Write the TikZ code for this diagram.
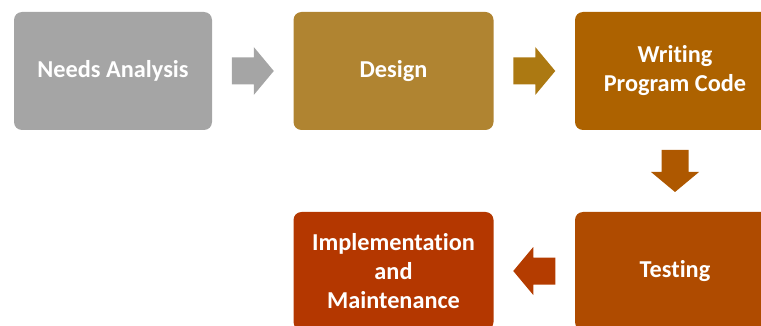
\documentclass[tikz,border=0pt]{standalone}
\usepackage{fontspec}
\setmainfont[Ligatures=NoCommon]{Carlito}
\usetikzlibrary{calc}

\definecolor{stgray}{HTML}{A5A5A5}
\definecolor{stgold}{HTML}{B08431}
\definecolor{stgoldarr}{HTML}{AC7912}
\definecolor{stbrown}{HTML}{AD6200}
\definecolor{stbrownarr}{HTML}{AE5800}
\definecolor{sttest}{HTML}{AF4B00}
\definecolor{sttestarr}{HTML}{B43C00}
\definecolor{stimpl}{HTML}{B43700}

\tikzset{
  stagebox/.style={rounded corners=8pt, text=white, align=center,
    minimum width=200pt, minimum height=118pt, inner sep=0pt,
    font=\fontsize{24.3pt}{29pt}\selectfont\bfseries}
}

% block arrow: colour, centre, angle
\newcommand{\blockarrow}[3]{\fill[#1, shift={(#2)}, rotate=#3]
  (-21,-13.5) -- (1,-13.5) -- (1,-24) -- (21,0) -- (1,24) -- (1,13.5) -- (-21,13.5) -- cycle;}

\begin{document}
\begin{tikzpicture}[x=1pt, y=-1pt]

\useasboundingbox (0,0) rectangle (761,326);
\clip (0,0) rectangle (761,326);

%boxes
\node[stagebox, fill=stgray, minimum width=198pt] (needs) at (113,71) {Needs Analysis};
\node[stagebox, fill=stgold] (design) at (393.5,71) {Design};
\node[stagebox, fill=stbrown] (code) at (675,71) {Writing\\Program Code};
\node[stagebox, fill=sttest] (test) at (675,271) {Testing};
\node[stagebox, fill=stimpl] (impl) at (393.5,271) {Implementation\\and\\Maintenance};

%arrows
\coordinate (a1) at ($(needs.east)!0.5!(design.west)$);
\coordinate (a2) at ($(design.east)!0.5!(code.west)$);
\coordinate (a3) at ($(code.south)!0.5!(test.north)$);
\coordinate (a4) at ($(test.west)!0.5!(impl.east)$);

\blockarrow{stgray}{a1}{0}
\blockarrow{stgoldarr}{a2}{0}
\blockarrow{stbrownarr}{a3}{-90}
\blockarrow{sttestarr}{a4}{180}

\end{tikzpicture}
\end{document}
